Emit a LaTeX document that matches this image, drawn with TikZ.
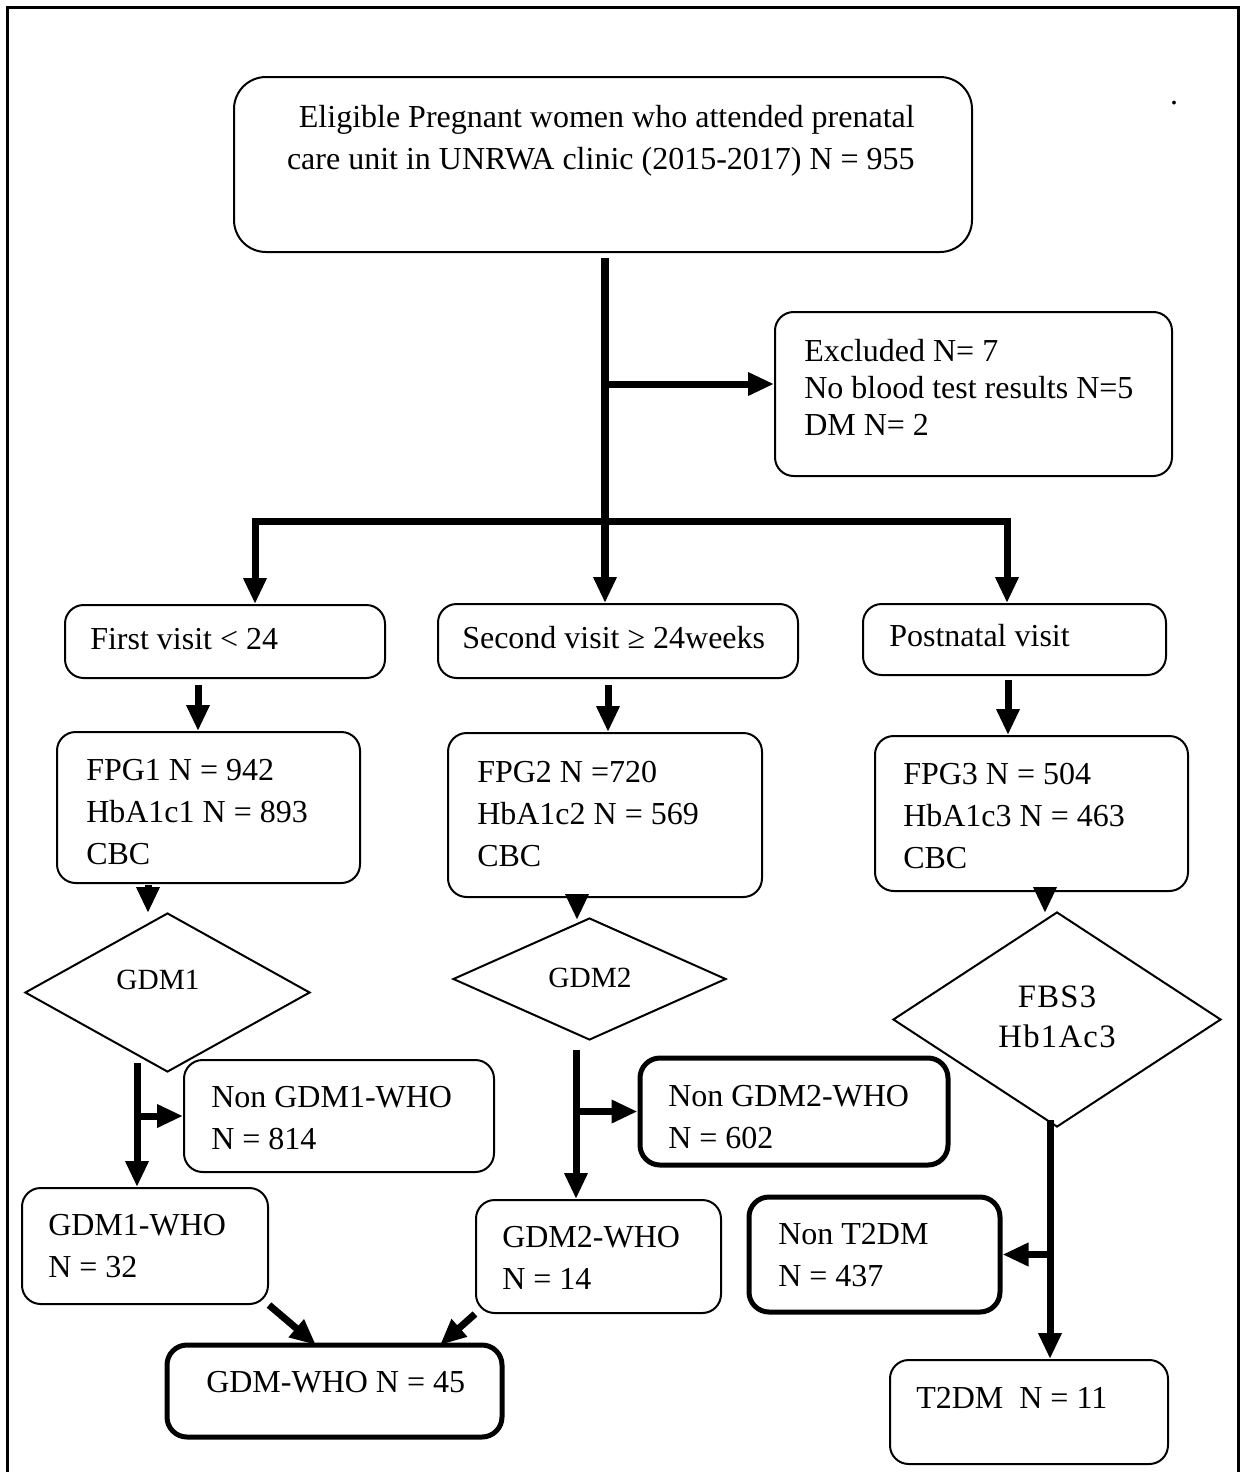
\documentclass[tikz,border=0pt]{standalone}
\usepackage{fontspec}
\setmainfont{Liberation Serif}
\usetikzlibrary{arrows.meta,shapes.geometric,fit}
\newcommand\firstln{\rule{0pt}{18pt}}
\begin{document}
\begin{tikzpicture}[x=0.75pt,y=-0.75pt,
  box/.style={draw,line width=1.5pt,rounded corners=14pt,inner sep=0pt},
  thickbox/.style={draw,line width=3.75pt,rounded corners=15pt,inner sep=0pt},
  dia/.style={draw,diamond,line width=1.5pt,inner sep=0pt},
  txt/.style={anchor=north west,inner sep=0pt,align=left,font=\fontsize{24}{31.5}\selectfont},
  smalltxt/.style={inner sep=0pt,font=\fontsize{22}{25}\selectfont},
  conn/.style={line width=5.25pt},
  arr/.style={line width=5.25pt,-{Triangle[length=19.5pt,width=16.5pt]}},
]
\useasboundingbox (0,0) rectangle (1241,1472);
% outer frame (open at bottom)
\draw[line width=2.25pt] (7,1472) -- (7,7) -- (1238,7) -- (1238,1472);
\node[inner sep=0pt,font=\fontsize{24}{31.5}\selectfont] (dot) at (1174,103) {.};

% boxes
\node[box,rounded corners=24pt,fit={(234,77) (972,252)}] (top) {};
\node[box,fit={(775,312) (1172,476)}] (excl) {};
\node[box,fit={(65,605) (385,678)}] (v1) {};
\node[box,fit={(438,604) (798,678)}] (v2) {};
\node[box,fit={(863,604) (1166,675)}] (v3) {};
\node[box,fit={(57,732) (360,883)}] (f1) {};
\node[box,fit={(448,733) (762,897)}] (f2) {};
\node[box,fit={(875,736) (1188,891)}] (f3) {};
\node[box,fit={(184,1060) (494,1172)}] (n1) {};
\node[box,fit={(22,1188) (268,1304)}] (g1) {};
\node[thickbox,fit={(640,1058) (948,1165)}] (n2) {};
\node[box,fit={(476,1200) (721,1313)}] (g2) {};
\node[thickbox,fit={(749,1197) (1000,1312)}] (nt) {};
\node[box,fit={(890,1360) (1168,1464)}] (t2) {};
\node[thickbox,fit={(167,1345) (502,1437)}] (gw) {};

% diamonds
\node[dia,minimum width=213.75pt,minimum height=119.25pt] (d1) at (167.5,992.5) {};
\node[dia,minimum width=204.75pt,minimum height=91.5pt] (d2) at (589.5,979) {};
\node[dia,minimum width=246pt,minimum height=161.25pt] (d3) at (1057,1019.5) {};

% texts
\node[txt,anchor=north east,align=right] (top-t) at (915,103) {\firstln Eligible Pregnant women who attended prenatal\\care unit in UNRWA clinic (2015-2017) N = 955};
\node[txt,font=\fontsize{24}{27.75}\selectfont] (excl-t) at (804,337) {\firstln Excluded N= 7\\No blood test results N=5\\DM N= 2};
\node[txt] (v1-t) at (90,625) {\firstln First visit < 24};
\node[txt] (v2-t) at (462,624) {\firstln Second visit ≥ 24weeks};
\node[txt] (v3-t) at (889,622) {\firstln Postnatal visit};
\node[txt] (f1-t) at (86,756) {\firstln FPG1 N = 942\\HbA1c1 N = 893\\CBC};
\node[txt] (f2-t) at (477,758) {\firstln FPG2 N =720\\HbA1c2 N = 569\\CBC};
\node[txt] (f3-t) at (903,760) {\firstln FPG3 N = 504\\HbA1c3 N = 463\\CBC};
\node[smalltxt] (d1-t) at (158,980) {GDM1};
\node[smalltxt] (d2-t) at (590,978) {GDM2};
\node[txt,anchor=north,align=center,font=\fontsize{24.5}{30}\selectfont\addfontfeatures{LetterSpace=4}] (d3-t) at (1057,983) {\firstln FBS3\\Hb1Ac3};
\node[txt] (n1-t) at (211,1083) {\firstln Non GDM1-WHO\\N = 814};
\node[txt] (g1-t) at (48,1211) {\firstln GDM1-WHO\\N = 32};
\node[txt] (n2-t) at (668,1082) {\firstln Non GDM2-WHO\\N = 602};
\node[txt] (g2-t) at (502,1223) {\firstln GDM2-WHO\\N = 14};
\node[txt] (nt-t) at (778,1220) {\firstln Non T2DM\\N = 437};
\node[txt] (t2-t) at (916,1384) {\firstln T2DM\ \ N = 11};
\node[txt] (gw-t) at (206,1368) {\firstln GDM-WHO N = 45};

% connector coordinates
\coordinate (m0) at (605,258);
\coordinate (ex) at (607,384);
\coordinate (b1) at (255,521);
\coordinate (b2) at (1007,521);
\coordinate (s1) at (198,685);
\coordinate (s2) at (608,685);
\coordinate (s3) at (1008,680);
\coordinate (a1) at (148,885);
\coordinate (a1e) at (148,913);
\coordinate (a2) at (577,897);
\coordinate (a2e) at (577,920);
\coordinate (a3) at (1045,891);
\coordinate (a3e) at (1045,913);
\coordinate (c1) at (137,1063);
\coordinate (c2) at (576,1050);
\coordinate (c3) at (1050,1120);
\coordinate (gwl) at (316,1345);
\coordinate (gwr) at (440,1345);

% connectors
\draw[arr,line width=6pt] (m0) -- (m0 |- v2.north);
\draw[arr] (ex) -- (excl.west |- ex);
\draw[conn] (b1) -- (b2);
\draw[arr] ([yshift=2pt]b1) -- (b1 |- v1.north);
\draw[arr] ([yshift=2pt]b2) -- (b2 |- v3.north);
\draw[arr] (s1) -- (s1 |- f1.north);
\draw[arr] (s2) -- (s2 |- f2.north);
\draw[arr] (s3) -- (s3 |- f3.north);
\draw[arr] (a1) -- (a1e);
\draw[arr] (a2) -- (a2e);
\draw[arr] (a3) -- (a3e);
\draw[arr] (c1) -- (c1 |- g1.north);
\draw[arr] (c1 |- n1.west) -- (n1.west);
\draw[arr] (c2) -- (c2 |- g2.north);
\draw[arr] (c2 |- n2.west) -- (n2.west);
\draw[arr] (c3) -- (c3 |- t2.north);
\draw[arr] (c3 |- nt.east) -- (nt.east);
\draw[arr] (g1.south east) -- (gwl);
\draw[arr] (g2.south west) -- (gwr);
\end{tikzpicture}
\end{document}
